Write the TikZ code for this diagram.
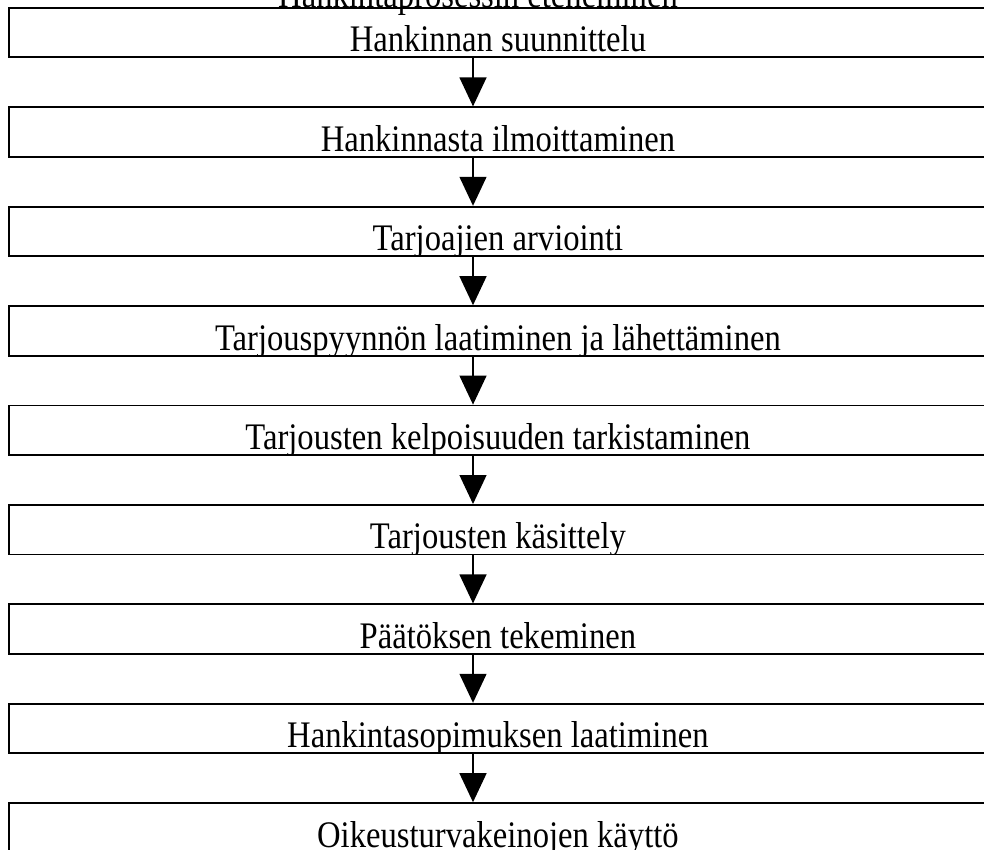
\documentclass[tikz,border=0pt]{standalone}
\usepackage{fontspec}
\setmainfont{Liberation Serif}
\newfontfamily\stepfont[FakeStretch=0.87]{Liberation Serif}
\usetikzlibrary{arrows.meta}
\begin{document}
\begin{tikzpicture}[x=1pt,y=-1pt,
  labelfont/.style={font=\stepfont\fontsize{37.5}{42}\selectfont},
  stepbox/.style={draw, line width=1.8pt, rectangle, inner sep=0pt,
    minimum width=977.4pt, minimum height=49.5pt, anchor=north west},
  steptext/.style={path picture={\node[anchor=base, inner sep=0pt, labelfont]
      at ([yshift=-44pt]path picture bounding box.north) {#1};}},
  flowarrow/.style={line width=1.3pt, -{Triangle[width=27pt,length=29pt]}}]
\useasboundingbox (0,0) rectangle (984,850);
\clip (0,0) rectangle (984,850);

% heading, partly cut by the top edge
\node[anchor=base, inner sep=0pt, labelfont]
  (title) at (478,8) {Hankintaprosessin eteneminen};

% process steps
\node[stepbox, steptext={Hankinnan suunnittelu}] (b1) at (8.3,7) {};
\node[stepbox, steptext={Hankinnasta ilmoittaminen}] (b2) at (8.3,106.4) {};
\node[stepbox, steptext={Tarjoajien arviointi}] (b3) at (8.3,205.8) {};
\node[stepbox, steptext={Tarjouspyynnön laatiminen ja lähettäminen}] (b4) at (8.3,305.2) {};
\node[stepbox, steptext={Tarjousten kelpoisuuden tarkistaminen}] (b5) at (8.3,404.6) {};
\node[stepbox, steptext={Tarjousten käsittely}] (b6) at (8.3,504) {};
\node[stepbox, steptext={Päätöksen tekeminen}] (b7) at (8.3,603.4) {};
\node[stepbox, steptext={Hankintasopimuksen laatiminen}] (b8) at (8.3,702.8) {};
\node[stepbox, steptext={Oikeusturvakeinojen käyttö}] (b9) at (8.3,802.2) {};

% arrows between consecutive steps
\coordinate (ax) at (473,0);
\foreach \a/\b in {b1/b2,b2/b3,b3/b4,b4/b5,b5/b6,b6/b7,b7/b8,b8/b9}
  \draw[flowarrow] (\a.south -| ax) -- (\b.north -| ax);
\end{tikzpicture}
\end{document}
